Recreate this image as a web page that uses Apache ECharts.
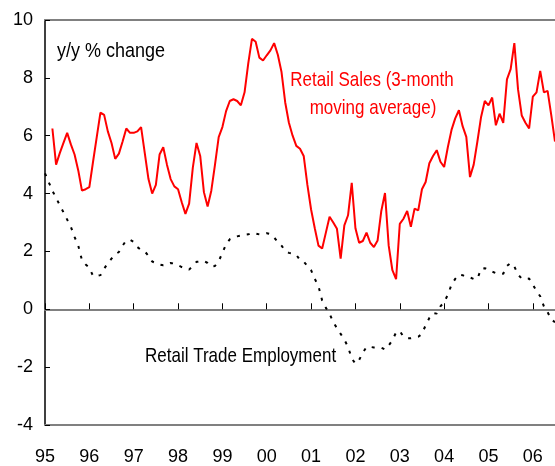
<!DOCTYPE html>
<html><head><meta charset="utf-8">
<script src="https://cdn.jsdelivr.net/npm/echarts@6/dist/echarts.min.js"></script>
<style>html,body{margin:0;padding:0;background:#fff}#c{width:555px;height:466px}</style>
</head><body><div id="c"></div>
<script>
// Monthly categories Jan 1995 .. Jul 2006
const startYear = 1995, monthsCount = 139;
const months = [];
for (let i = 0; i < monthsCount; i++) {
  const y = startYear + Math.floor(i / 12), m = (i % 12) + 1;
  months.push(y + '-' + (m < 10 ? '0' + m : m));
}
const yearLabels = ['95','96','97','98','99','00','01','02','03','04','05','06'];

// Retail Sales, 3-month moving average, y/y % change
const retailSales = [
  null, null, 6.25, 5.0, 5.4, 5.75, 6.1, 5.7, 5.35, 4.8, 4.1, 4.15,
  4.22, 5.1, 5.95, 6.8, 6.72, 6.15, 5.75, 5.2, 5.38, 5.8, 6.25, 6.1,
  6.1, 6.15, 6.3, 5.4, 4.5, 4.0, 4.3, 5.35, 5.6, 5.0, 4.5, 4.25,
  4.15, 3.7, 3.3, 3.65, 4.9, 5.75, 5.3, 4.05, 3.55, 4.1, 5.0, 5.95,
  6.3, 6.85, 7.2, 7.26, 7.2, 7.05, 7.5, 8.5, 9.35, 9.25, 8.7, 8.6,
  8.78, 8.95, 9.2, 8.8, 8.2, 7.15, 6.45, 6.0, 5.65, 5.55, 5.3, 4.3,
  3.45, 2.8, 2.2, 2.1, 2.65, 3.2, 3.0, 2.78, 1.75, 2.9, 3.25, 4.37,
  2.8, 2.3, 2.36, 2.65, 2.3, 2.15, 2.38, 3.4, 4.02, 2.2, 1.35, 1.04,
  2.95, 3.13, 3.4, 2.85, 3.48, 3.42, 4.15, 4.4, 5.05, 5.3, 5.5, 5.1,
  4.92, 5.6, 6.2, 6.6, 6.88, 6.33, 5.96, 4.57, 5.0, 5.8, 6.65, 7.2,
  7.05, 7.32, 6.36, 6.76, 6.44, 7.95, 8.3, 9.2, 7.6, 6.7, 6.45, 6.25,
  7.35, 7.5, 8.24, 7.5, 7.55, 6.7, 5.8
];

// Retail Trade Employment, y/y % change
const retailEmployment = [
  4.7, 4.4, 4.1, 3.85, 3.6, 3.35, 3.1, 2.85, 2.5, 2.2, 1.7, 1.55,
  1.44, 1.15, 1.15, 1.18, 1.4, 1.6, 1.75, 1.9, 1.98, 2.2, 2.38, 2.4,
  2.33, 2.15, 2.05, 2.0, 1.85, 1.65, 1.6, 1.55, 1.52, 1.55, 1.6, 1.58,
  1.52, 1.46, 1.42, 1.37, 1.5, 1.64, 1.65, 1.67, 1.6, 1.48, 1.5, 1.66,
  1.95, 2.25, 2.42, 2.48, 2.52, 2.55, 2.57, 2.59, 2.64, 2.62, 2.59, 2.6,
  2.63, 2.6, 2.48, 2.33, 2.2, 2.02, 1.95, 1.92, 1.88, 1.7, 1.65, 1.5,
  1.35, 1.05, 0.8, 0.3, 0.05, -0.15, -0.45, -0.65, -0.85, -1.05, -1.3, -1.7,
  -1.88, -1.75, -1.5, -1.3, -1.3, -1.32, -1.32, -1.33, -1.39, -1.25, -1.07, -0.8,
  -0.75, -0.95, -1.0, -1.0, -0.98, -0.95, -0.85, -0.55, -0.3, -0.13, -0.15, 0.1,
  0.25, 0.5, 0.85, 1.05, 1.2, 1.18, 1.12, 1.1, 1.05, 1.05, 1.4, 1.42,
  1.38, 1.3, 1.25, 1.22, 1.23, 1.5, 1.6, 1.48, 1.2, 1.06, 1.05, 1.06,
  0.85, 0.63, 0.45, 0.1, -0.1, -0.35, -0.45
];

const FONT = '"Liberation Sans", Arial, sans-serif';
const isJan = (idx) => idx % 12 === 0;

const chart = echarts.init(document.getElementById('c'), null, {renderer: 'canvas'});
chart.setOption({
  animation: false,
  backgroundColor: '#fff',
  grid: {left: 45, right: 0, top: 20, bottom: 41, containLabel: false},
  xAxis: [
    {
      type: 'category', data: months, boundaryGap: false,
      axisLine: {onZero: true, onZeroAxisIndex: 0, lineStyle: {color: '#808080', width: 2}},
      axisTick: {show: true, inside: true, length: 6, interval: (i) => isJan(i), lineStyle: {color: '#000', width: 1}},
      axisLabel: {show: false}, splitLine: {show: false}
    },
    {
      type: 'category', data: months, boundaryGap: false, position: 'bottom',
      axisLine: {onZero: false, lineStyle: {color: '#808080', width: 2}},
      axisTick: {show: false},
      axisLabel: {
        show: true, interval: (i) => isJan(i), margin: 23,
        fontFamily: FONT, fontSize: 18, color: '#000',
        formatter: (v, i) => yearLabels[Math.floor(i / 12)]
      },
      splitLine: {show: false}
    },
    {
      type: 'category', data: months, boundaryGap: false, position: 'top',
      axisLine: {onZero: false, lineStyle: {color: '#808080', width: 2}},
      axisTick: {show: false}, axisLabel: {show: false}, splitLine: {show: false}
    }
  ],
  yAxis: {
    type: 'value', min: -4, max: 10, interval: 2,
    axisLine: {show: true, onZero: false, lineStyle: {color: '#000', width: 1.5}},
    axisTick: {show: true, inside: true, length: 5, lineStyle: {color: '#000'}},
    axisLabel: {fontFamily: FONT, fontSize: 18, color: '#000', margin: 12},
    splitLine: {show: false}
  },
  series: [
    {
      name: 'Retail Sales', type: 'line', xAxisIndex: 0, data: retailSales,
      showSymbol: false, symbol: 'none', connectNulls: false,
      lineStyle: {color: '#ff0000', width: 2}, z: 3
    },
    {
      name: 'Retail Trade Employment', type: 'line', xAxisIndex: 0, data: retailEmployment,
      showSymbol: false, symbol: 'none',
      lineStyle: {color: '#000', width: 2, type: [3, 7]}, z: 2
    }
  ],
  graphic: [
    {type: 'text', x: 57, y: 51, scaleY: 1.15, style: {text: 'y/y % change', font: '18px ' + FONT, fill: '#000', verticalAlign: 'middle'}},
    {type: 'text', x: 372, y: 80, scaleY: 1.2, style: {text: 'Retail Sales (3-month', font: '17px ' + FONT, fill: '#ff0000', align: 'center', verticalAlign: 'middle'}},
    {type: 'text', x: 373, y: 108, scaleY: 1.2, style: {text: 'moving average)', font: '17px ' + FONT, fill: '#ff0000', align: 'center', verticalAlign: 'middle'}},
    {type: 'text', x: 145, y: 356, scaleY: 1.2, style: {text: 'Retail Trade Employment', font: '17px ' + FONT, fill: '#000', verticalAlign: 'middle'}}
  ]
});
</script>
</body></html>
